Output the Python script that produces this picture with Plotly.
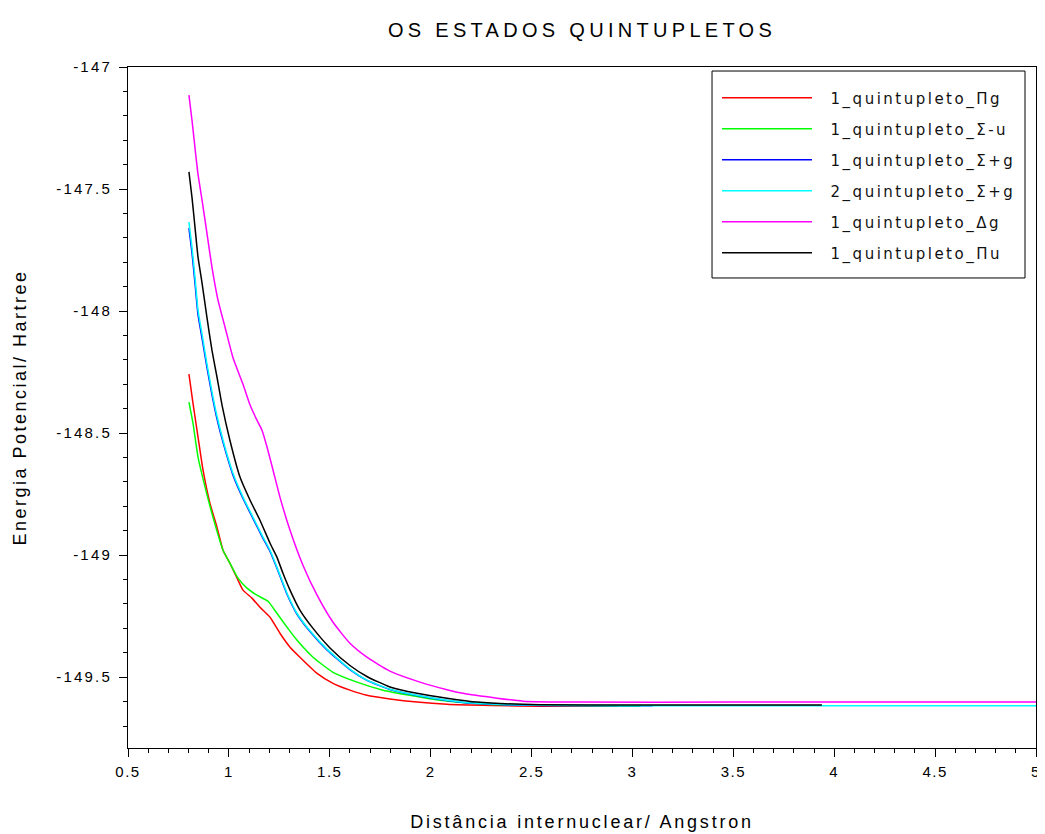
import plotly.graph_objects as go

# ---------------- data ----------------
names = ["1_quintupleto_Πg", "1_quintupleto_Σ-u", "1_quintupleto_Σ+g",
         "2_quintupleto_Σ+g", "1_quintupleto_Δg", "1_quintupleto_Πu"]
colors = ["#ff0000", "#00ff00", "#0000ff", "#00ffff", "#ff00ff", "#000000"]

red_x = [0.802, 0.822, 0.847, 0.872, 0.906, 0.941, 0.971, 1.005, 1.045, 1.070, 1.114, 1.154,
         1.204, 1.253, 1.303, 1.352, 1.437, 1.516, 1.600, 1.684, 1.798, 1.932, 2.081, 2.300,
         2.542, 2.928]
red_y = [-148.258, -148.377, -148.516, -148.652, -148.787, -148.885, -148.980, -149.033,
         -149.102, -149.143, -149.176, -149.213, -149.254, -149.320, -149.377, -149.418,
         -149.484, -149.525, -149.553, -149.574, -149.589, -149.602, -149.611, -149.616,
         -149.619, -149.619]

green_x = [0.802, 0.822, 0.847, 0.882, 0.921, 0.971, 1.005, 1.045, 1.090, 1.139, 1.194, 1.238,
           1.288, 1.337, 1.417, 1.516, 1.635, 1.764, 1.897, 2.046, 2.279, 2.542, 3.040]
green_y = [-148.373, -148.459, -148.598, -148.721, -148.844, -148.980, -149.033, -149.094,
           -149.135, -149.164, -149.189, -149.238, -149.295, -149.348, -149.418, -149.480,
           -149.520, -149.553, -149.574, -149.594, -149.611, -149.615, -149.619]

blue_x = [0.802, 0.817, 0.832, 0.847, 0.872, 0.891, 0.916, 0.941, 0.971, 1.020, 1.070, 1.119,
          1.169, 1.204, 1.238, 1.288, 1.337, 1.402, 1.486, 1.600, 1.684, 1.798, 1.932, 2.081,
          2.229, 2.542, 3.100]
blue_y = [-147.660, -147.760, -147.885, -148.015, -148.135, -148.230, -148.342, -148.441,
          -148.538, -148.671, -148.768, -148.849, -148.931, -148.985, -149.053, -149.160,
          -149.241, -149.313, -149.388, -149.469, -149.513, -149.550, -149.575, -149.595,
          -149.608, -149.616, -149.617]

cyan_x = [0.802, 0.817, 0.832, 0.847, 0.872, 0.891, 0.916, 0.941, 0.971, 1.020, 1.070, 1.119,
          1.169, 1.204, 1.238, 1.288, 1.337, 1.402, 1.486, 1.600, 1.684, 1.798, 1.932, 2.081,
          2.229, 2.542, 3.000, 3.500, 4.000, 4.500, 5.000]
cyan_y = [-147.635, -147.738, -147.861, -147.996, -148.119, -148.215, -148.330, -148.430,
          -148.529, -148.664, -148.762, -148.844, -148.926, -148.980, -149.049, -149.156,
          -149.238, -149.310, -149.385, -149.467, -149.512, -149.549, -149.574, -149.594,
          -149.607, -149.615, -149.617, -149.617, -149.617, -149.617, -149.617]

magenta_x = [0.802, 0.817, 0.837, 0.847, 0.867, 0.891, 0.916, 0.946, 0.981, 1.020, 1.070,
             1.105, 1.139, 1.164, 1.189, 1.219, 1.253, 1.303, 1.367, 1.437, 1.516, 1.600,
             1.684, 1.798, 1.947, 2.081, 2.160, 2.329, 2.457, 2.740, 3.500, 4.000, 5.000]
magenta_y = [-147.115, -147.217, -147.369, -147.440, -147.545, -147.680, -147.820, -147.955,
             -148.066, -148.190, -148.300, -148.385, -148.447, -148.488, -148.557, -148.652,
             -148.762, -148.898, -149.041, -149.164, -149.275, -149.361, -149.418, -149.475,
             -149.520, -149.551, -149.566, -149.586, -149.598, -149.602, -149.602, -149.602,
             -149.602]

black_x = [0.802, 0.817, 0.832, 0.847, 0.867, 0.891, 0.916, 0.941, 0.966, 1.005, 1.055, 1.105,
           1.154, 1.204, 1.238, 1.268, 1.303, 1.352, 1.417, 1.501, 1.600, 1.684, 1.798, 1.932,
           2.081, 2.229, 2.542, 3.000, 3.500, 3.939]
black_y = [-147.430, -147.533, -147.656, -147.779, -147.885, -148.025, -148.160, -148.270,
           -148.385, -148.529, -148.680, -148.775, -148.857, -148.951, -149.008, -149.074,
           -149.143, -149.225, -149.300, -149.380, -149.452, -149.497, -149.540, -149.566,
           -149.586, -149.602, -149.613, -149.614, -149.614, -149.614]

x_ticks = [0.5, 1, 1.5, 2, 2.5, 3, 3.5, 4, 4.5, 5]
x_tick_labels = ["0.5", "1", "1.5", "2", "2.5", "3", "3.5", "4", "4.5", "5"]
y_ticks = [-149.5, -149, -148.5, -148, -147.5, -147]
y_tick_labels = ["-149.5", "-149", "-148.5", "-148", "-147.5", "-147"]

title_text = "OS ESTADOS QUINTUPLETOS"
x_title = "Distância internuclear/ Angstron"
y_title = "Energia Potencial/ Hartree"


def spaced(txt, px):
    return '<span style="letter-spacing:%spx">%s</span>' % (px, txt)


series = [(red_x, red_y), (green_x, green_y), (blue_x, blue_y),
          (cyan_x, cyan_y), (magenta_x, magenta_y), (black_x, black_y)]

fig = go.Figure()
for i, ((xs, ys), nm, col) in enumerate(zip(series, names, colors)):
    fig.add_trace(go.Scatter(
        x=xs, y=ys, mode="lines",
        name='<span style="letter-spacing:2px">\u00a0\u00a0</span>' + spaced(nm, 2.5),
        legendgroup="g%d" % i,
        line=dict(color=col, width=1.5, shape="spline", smoothing=0.5),
    ))

font_main = "Liberation Sans, Arial, sans-serif"

# page body has an 8px margin: the figure is sized/offset to compensate
W, H = 1037, 826
fig.update_layout(
    width=W, height=H,
    margin=dict(l=120, r=9, t=59, b=86, autoexpand=False),
    paper_bgcolor="white", plot_bgcolor="white",
    font=dict(family=font_main, size=15, color="black"),
    title=dict(text=spaced(title_text, 4.3), x=0.5, xref="paper", xanchor="center",
               y=1 - 22 / H, yref="container", yanchor="middle",
               font=dict(family=font_main, size=20, color="black")),
    showlegend=True,
    legend=dict(x=0.6487, y=0.9787, xanchor="left", yanchor="top",
                borderwidth=0, bgcolor="rgba(0,0,0,0)",
                font=dict(family="DejaVu Sans, sans-serif", size=15, color="#111"),
                itemwidth=90, tracegroupgap=8.5),
    shapes=[dict(type="rect", xref="paper", yref="paper",
                 x0=0.6432, x1=0.9879, y0=0.6902, y1=0.9941,
                 line=dict(color="black", width=1), fillcolor="white", layer="above")],
)

fig.update_xaxes(
    range=[0.5, 5], tickmode="array", tickvals=x_ticks,
    ticktext=[spaced(t, 1.5) for t in x_tick_labels],
    ticks="outside", ticklen=8, tickcolor="black", tickwidth=1,
    ticklabelstandoff=2, automargin=False,
    showline=True, linecolor="black", linewidth=1, mirror=True,
    showgrid=False, zeroline=False,
    minor=dict(ticks="outside", ticklen=4, tick0=0.5, dtick=0.1, tickcolor="black"),
    title=dict(text=spaced(x_title, 2.8), standoff=36,
               font=dict(family=font_main, size=18, color="black")),
)
fig.update_yaxes(
    range=[-149.79, -147.0], tickmode="array", tickvals=y_ticks,
    ticktext=[spaced(t, 2.2) for t in y_tick_labels],
    ticks="outside", ticklen=8, tickcolor="black", tickwidth=1,
    ticklabelstandoff=4, automargin=False,
    showline=True, linecolor="black", linewidth=1, mirror=True,
    showgrid=False, zeroline=False,
    minor=dict(ticks="outside", ticklen=4, tick0=-147, dtick=0.1, tickcolor="black"),
    title=dict(text=spaced(y_title, 2.5), standoff=24,
               font=dict(family=font_main, size=18, color="black")),
)

fig.write_html("out.html")
